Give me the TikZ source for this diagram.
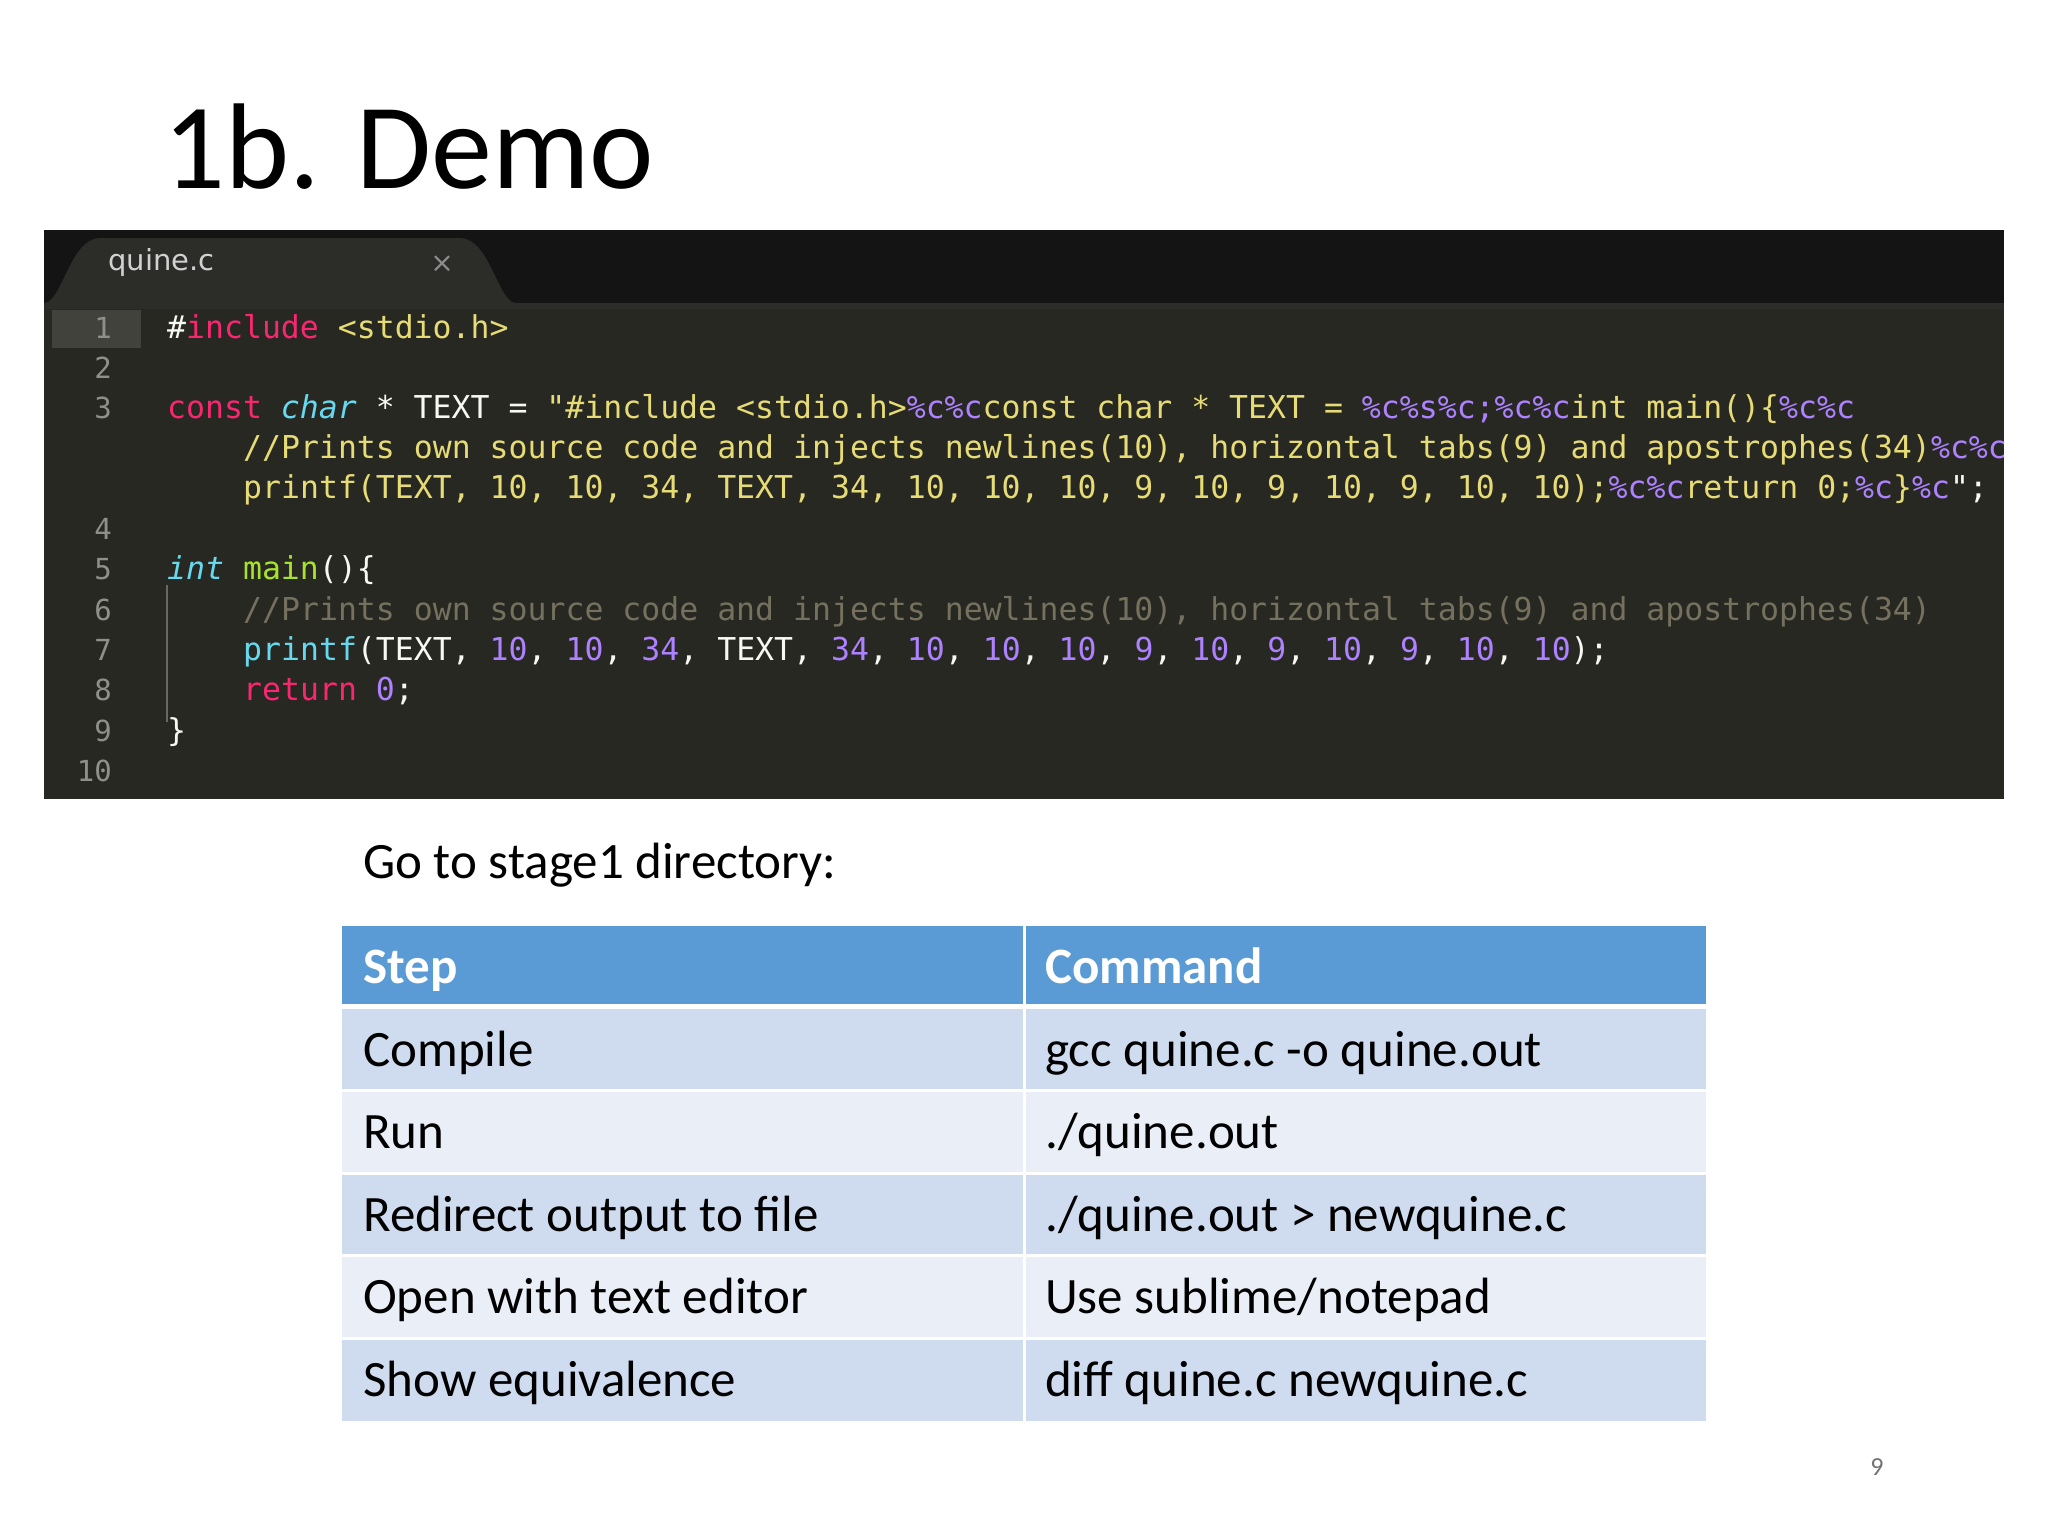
\documentclass[tikz,border=0pt]{standalone}
\usepackage{fontspec}
\setmainfont{Carlito}
\newfontfamily\codefont{DejaVu Sans Mono}
\newfontfamily\tabfont{DejaVu Sans}
\definecolor{kw}{HTML}{F92672}
\definecolor{ty}{HTML}{66D9EF}
\definecolor{st}{HTML}{E6DB74}
\definecolor{nu}{HTML}{AE81FF}
\definecolor{wh}{HTML}{F8F8F2}
\definecolor{cm}{HTML}{75715E}
\definecolor{fn}{HTML}{A6E22E}
\definecolor{lnum}{HTML}{8F908A}
\definecolor{edbg}{HTML}{272822}
\definecolor{tabbar}{HTML}{141414}
\definecolor{tabbg}{HTML}{2C2C29}
\definecolor{hdr}{HTML}{5B9BD5}
\definecolor{rowa}{HTML}{CFDBEE}
\definecolor{rowb}{HTML}{E9EEF7}
\newcommand\K[1]{\textcolor{kw}{#1}}
\newcommand\T[1]{\textcolor{ty}{\itshape #1}}
\newcommand\Sg[1]{\textcolor{st}{#1}}
\newcommand\N[1]{\textcolor{nu}{#1}}
\newcommand\W[1]{\textcolor{wh}{#1}}
\newcommand\Cm[1]{\textcolor{cm}{#1}}
\newcommand\F[1]{\textcolor{fn}{#1}}
\begin{document}
\begin{tikzpicture}[x=1pt,y=-1pt,
  code/.style={anchor=base west,inner sep=0pt,font=\codefont\fontsize{31.5}{36}\selectfont},
  ln/.style={anchor=base east,inner sep=0pt,text=lnum,font=\codefont\fontsize{29}{34}\selectfont},
  cell/.style={anchor=base west,inner sep=0pt,font=\fontsize{51}{60}\selectfont,text=black},
  head/.style={anchor=base west,inner sep=0pt,font=\bfseries\fontsize{51}{60}\selectfont,text=white}]
\useasboundingbox (0,0) rectangle (2048,1536);
\fill[white] (0,0) rectangle (2048,1536);
% title
\node[anchor=base west,inner sep=0pt,font=\fontsize{122}{140}\selectfont] (title) at (163,189) {1b. Demo};
% editor
\fill[edbg] (44,230) rectangle (2004,799);
\fill[tabbar] (44,230) rectangle (2004,303);
\fill[tabbg] (44,303) .. controls (62,303) and (70,238) .. (100,238) -- (460,238) .. controls (490,238) and (498,303) .. (516,303) -- cycle;
\fill[tabbg] (44,303) rectangle (2004,309);
\node[anchor=west,inner sep=0pt,text=white!82!black,font=\tabfont\fontsize{29}{34}\selectfont] (tabname) at (108,262) {quine.c};
\node[anchor=center,inner sep=0pt,text=white!55!black,font=\tabfont\fontsize{28}{34}\selectfont] (tabx) at (442,264) {×};
\fill[white!12!edbg] (52,310) rectangle (141,348);
\draw[white!30!edbg,line width=1.5pt] (167,585) -- (167,722);
% line numbers
\foreach \n/\y in {1/338,2/378,3/418,4/539,5/579,6/620,7/660,8/700,9/741,10/781}
  \node[ln] (ln\n) at (112,\y) {\n};
% code
\node[code] (c1) at (167,338) {\W{\#}\K{include} \Sg{<stdio.h>}};
\node[code] (c3) at (167,418) {\K{const} \T{char} \W{* TEXT =} \Sg{"\#include <stdio.h>}\N{\%c\%c}\Sg{const char * TEXT =} \N{\%c\%s\%c;\%c\%c}\Sg{int main()\{}\N{\%c\%c}};
\node[code] (c3b) at (243,458) {\Sg{//Prints own source code and injects newlines(10), horizontal tabs(9) and apostrophes(34)}\N{\%c\%c}};
\node[code] (c3c) at (243,498) {\Sg{printf(TEXT, 10, 10, 34, TEXT, 34, 10, 10, 10, 9, 10, 9, 10, 9, 10, 10);}\N{\%c\%c}\Sg{return 0;}\N{\%c}\Sg{\}}\N{\%c}\W{";}};
\node[code] (c5) at (167,579) {\T{int} \F{main}\W{()\{}};
\node[code] (c6) at (243,620) {\Cm{//Prints own source code and injects newlines(10), horizontal tabs(9) and apostrophes(34)}};
\node[code] (c7) at (243,660) {\textcolor{ty}{printf}\W{(TEXT,} \N{10}\W{,} \N{10}\W{,} \N{34}\W{,} \W{TEXT,} \N{34}\W{,} \N{10}\W{,} \N{10}\W{,} \N{10}\W{,} \N{9}\W{,} \N{10}\W{,} \N{9}\W{,} \N{10}\W{,} \N{9}\W{,} \N{10}\W{,} \N{10}\W{);}};
\node[code] (c8) at (243,700) {\K{return} \N{0}\W{;}};
\node[code] (c9) at (167,741) {\W{\}}};
% caption
\node[cell] (go) at (363,878) {Go to stage1 directory:};
% table
\fill[hdr] (342,926) rectangle (1706,1005);
\foreach \i/\c in {0/rowa,1/rowb,2/rowa,3/rowb,4/rowa}
  \fill[\c] (342,{1008+82.6*\i}) rectangle (1706,{1008+82.6*(\i+1)});
\foreach \i in {1,2,3,4}
  \draw[white,line width=3pt] (342,{1008+82.6*\i}) -- (1706,{1008+82.6*\i});
\draw[white,line width=5pt] (342,1006.5) -- (1706,1006.5);
\draw[white,line width=3pt] (1024,926) -- (1024,1421);
\node[head] (h1) at (363,983) {Step};
\node[head] (h2) at (1045,983) {Command};
\node[cell] (s0) at (363,1066) {Compile};
\node[cell] (m0) at (1045,1066) {gcc quine.c -o quine.out};
\node[cell] (s1) at (363,1148.6) {Run};
\node[cell] (m1) at (1045,1148.6) {./quine.out};
\node[cell] (s2) at (363,1231.2) {Redirect output to file};
\node[cell] (m2) at (1045,1231.2) {./quine.out > newquine.c};
\node[cell] (s3) at (363,1313.8) {Open with text editor};
\node[cell] (m3) at (1045,1313.8) {Use sublime/notepad};
\node[cell] (s4) at (363,1396.4) {Show equivalence};
\node[cell] (m4) at (1045,1396.4) {diff quine.c newquine.c};
\node[anchor=base,inner sep=0pt,text=black!55,font=\fontsize{26}{30}\selectfont] (pg) at (1877,1475) {9};
\end{tikzpicture}
\end{document}
